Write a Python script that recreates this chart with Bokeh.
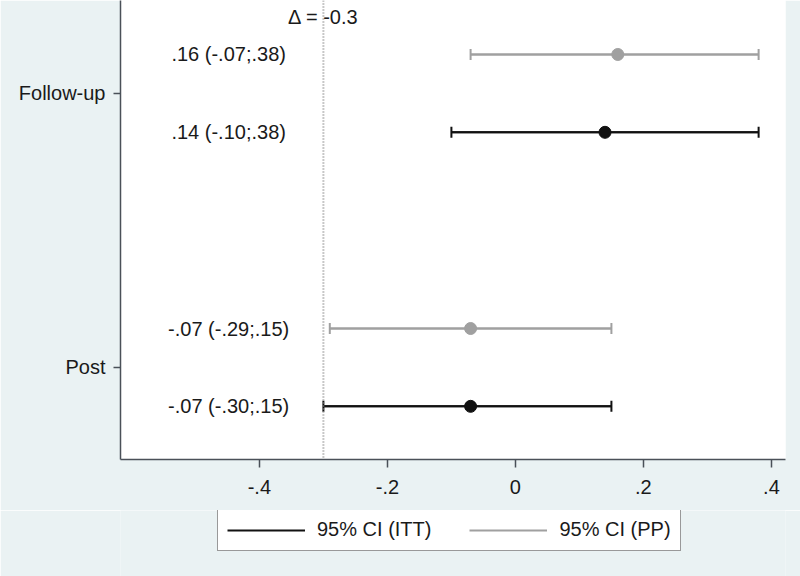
from bokeh.plotting import figure
from bokeh.layouts import column
from bokeh.models import (ColumnDataSource, Whisker, TeeHead, Span, FixedTicker,
                          Legend, LegendItem, Label)
from bokeh.core.properties import value
from bokeh.embed import file_html
from bokeh.resources import INLINE

# ---- data ----
timepoints = ["Post", "Follow-up"]
timepoint_pos = [1, 2]
itt_est = [-0.07, 0.14]
itt_lo = [-0.30, -0.10]
itt_hi = [0.15, 0.38]
itt_labels = ["-.07 (-.30;.15)", ".14 (-.10;.38)"]
pp_est = [-0.07, 0.16]
pp_lo = [-0.29, -0.07]
pp_hi = [0.15, 0.38]
pp_labels = ["-.07 (-.29;.15)", ".16 (-.07;.38)"]
series_names = ["95% CI (ITT)", "95% CI (PP)"]
delta = -0.3
x_ticks = [-0.4, -0.2, 0.0, 0.2, 0.4]
x_tick_labels = ["-.4", "-.2", "0", ".2", ".4"]

# ---- style ----
FONT = "Liberation Sans"
BG = "#EAF2F3"
BLACK = "#111111"
GRAY = "#A0A0A0"
AXIS = "#4a5058"
OFF = 0.142
LABEL_X = -0.448
X_RANGE = (-0.617, 0.422)

itt_y = [v - OFF for v in timepoint_pos]
pp_y = [v + OFF for v in timepoint_pos]

src_itt = ColumnDataSource(dict(y=itt_y, est=itt_est, lo=itt_lo, hi=itt_hi,
                                label=itt_labels, lx=[LABEL_X] * len(itt_y)))
src_pp = ColumnDataSource(dict(y=pp_y, est=pp_est, lo=pp_lo, hi=pp_hi,
                               label=pp_labels, lx=[LABEL_X] * len(pp_y)))

p = figure(frame_width=665, frame_height=459, output_backend="svg", toolbar_location=None,
           title=None, x_range=X_RANGE, y_range=(0.664, 2.339),
           min_border_left=120, min_border_right=15, min_border_top=0,
           min_border_bottom=51)
p.background_fill_color = "white"
p.border_fill_color = BG
p.outline_line_color = None
p.xgrid.visible = False
p.ygrid.visible = False

# dotted reference line
p.add_layout(Span(location=delta, dimension="height", line_color="#909090",
                  line_width=2, line_dash="1 2"))

# CI lines with caps
for src, col in ((src_pp, GRAY), (src_itt, BLACK)):
    p.segment(x0="lo", x1="hi", y0="y", y1="y", source=src, line_color=col, line_width=2)
    p.add_layout(Whisker(source=src, base="y", lower="lo", upper="hi", dimension="width",
                         line_color=col, line_width=2,
                         upper_head=TeeHead(size=11, line_color=col, line_width=2),
                         lower_head=TeeHead(size=11, line_color=col, line_width=2)))

p.scatter(x="est", y="y", source=src_pp, size=12, fill_color=GRAY, line_color=GRAY)
p.scatter(x="est", y="y", source=src_itt, size=12, fill_color=BLACK, line_color=BLACK)

for src in (src_pp, src_itt):
    p.text(x="lx", y="y", text="label", source=src, text_align="center",
           text_baseline="middle", text_font=value(FONT), text_font_size="20px",
           text_color="#1a1a1a")

p.add_layout(Label(x=delta, y=2.277, text="\u0394 = -0.3", text_align="center",
                   text_baseline="middle", text_font=FONT, text_font_size="20px",
                   text_color="#1a1a1a"))

# axes
for ax in (p.xaxis[0], p.yaxis[0]):
    ax.axis_line_color = AXIS
    ax.axis_line_width = 1.5
    ax.major_tick_line_color = AXIS
    ax.major_tick_line_width = 1.5
    ax.major_tick_in = 0
    ax.minor_tick_line_color = None
    ax.major_label_text_font = FONT
    ax.major_label_text_font_size = "20px"
    ax.major_label_text_color = "#1a1a1a"

p.xaxis.ticker = FixedTicker(ticks=x_ticks)
p.xaxis.major_label_overrides = {t: s for t, s in zip(x_ticks, x_tick_labels)}
p.xaxis.major_tick_out = 8
p.xaxis.major_label_standoff = 12

p.yaxis.ticker = FixedTicker(ticks=timepoint_pos)
p.yaxis.major_label_overrides = {t: s for t, s in zip(timepoint_pos, timepoints)}
p.yaxis.major_tick_out = 7
p.yaxis.major_label_standoff = 8

# ---- legend strip (frame aligned with the main plot's frame) ----
lg = figure(frame_width=665, frame_height=66, output_backend="svg", toolbar_location=None,
            title=None, x_axis_type=None, y_axis_type=None,
            x_range=X_RANGE, y_range=(10, 11),
            min_border_left=120, min_border_right=15, min_border_top=0, min_border_bottom=0)
lg.background_fill_color = BG
lg.border_fill_color = BG
lg.outline_line_color = None
lg.xgrid.visible = False
lg.ygrid.visible = False
# same series, drawn outside the strip's visible range; used only as legend keys
r_itt = lg.segment(x0="lo", x1="hi", y0="y", y1="y", source=src_itt,
                   line_color=BLACK, line_width=2)
r_pp = lg.segment(x0="lo", x1="hi", y0="y", y1="y", source=src_pp,
                  line_color=GRAY, line_width=2)
legend = Legend(items=[LegendItem(label=series_names[0], renderers=[r_itt]),
                       LegendItem(label=series_names[1], renderers=[r_pp])],
                orientation="horizontal", location=(97, 25),
                glyph_width=78, glyph_height=20, label_standoff=12, spacing=38,
                padding=9, margin=0, label_text_font=FONT,
                label_text_font_size="20px", label_text_color="#1a1a1a",
                border_line_color="#333333", border_line_width=1.5,
                background_fill_color="white", background_fill_alpha=1.0)
lg.add_layout(legend)

layout = column(p, lg, spacing=0)
open("out.html", "w").write(file_html(layout, INLINE))
